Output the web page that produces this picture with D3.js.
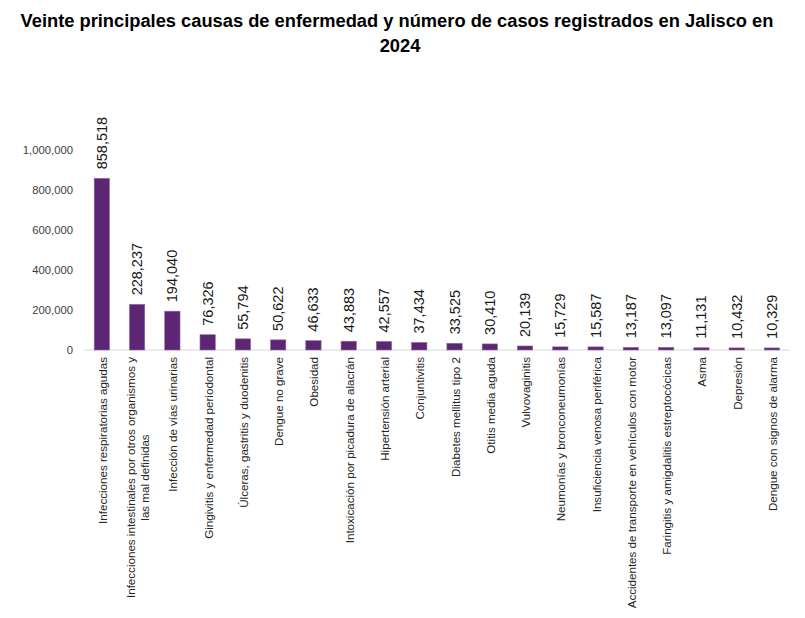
<!DOCTYPE html>
<html lang="es">
<head>
  <meta charset="UTF-8">
  <title>Veinte principales causas de enfermedad</title>
  <script src="https://d3js.org/d3.v7.min.js"></script>
  <style>
    body { margin: 0; background: #fff; font-family: "Liberation Sans", Arial, sans-serif; }
    svg { display: block; }
    .title { font-size: 18.3px; font-weight: bold; fill: #000; text-anchor: middle; }
    .y-axis text { font-size: 11.3px; fill: #404040; }
    .x-label { font-size: 11.6px; fill: #262626; }
    .value { font-size: 14.5px; fill: #1a1a1a; }
    .bar { fill: #5d2675; stroke: #8c6d9c; stroke-width: 0.6px; }
  </style>
</head>
<body>
  <svg width="805" height="618"></svg>
  <script>
    const titleLines = [
      "Veinte principales causas de enfermedad y número de casos registrados en Jalisco en",
      "2024"
    ];

    // categories (line breaks where the label wraps)
    const causes = [
      ["Infecciones respiratorias agudas"],
      ["Infecciones intestinales por otros organismos y", "las mal definidas"],
      ["Infección de vías urinarias"],
      ["Gingivitis y enfermedad periodontal"],
      ["Úlceras, gastritis y duodenitis"],
      ["Dengue no grave"],
      ["Obesidad"],
      ["Intoxicación por picadura de alacrán"],
      ["Hipertensión arterial"],
      ["Conjuntivitis"],
      ["Diabetes mellitus tipo 2"],
      ["Otitis media aguda"],
      ["Vulvovaginitis"],
      ["Neumonías y bronconeumonías"],
      ["Insuficiencia venosa periférica"],
      ["Accidentes de transporte en vehículos con motor"],
      ["Faringitis y amigdalitis estreptocócicas"],
      ["Asma"],
      ["Depresión"],
      ["Dengue con signos de alarma"]
    ];

    const cases = [858518, 228237, 194040, 76326, 55794, 50622, 46633, 43883, 42557, 37434,
                   33525, 30410, 20139, 15729, 15587, 13187, 13097, 11131, 10432, 10329];

    const yTicks = [0, 200000, 400000, 600000, 800000, 1000000];

    const svg = d3.select("svg");
    const fmt = d3.format(",");
    const baseY = 350;

    const x = d3.scaleBand()
      .domain(d3.range(cases.length))
      .range([84.2, 789.6])
      .paddingInner(0.566)
      .paddingOuter(0.283);

    const y = d3.scaleLinear()
      .domain([0, 1200000])
      .range([baseY, 110]);

    // title
    svg.append("text")
      .attr("class", "title")
      .selectAll("tspan")
      .data(titleLines)
      .enter()
      .append("tspan")
      .attr("x", (d, i) => i === 0 ? 397 : 400)
      .attr("y", (d, i) => 27 + i * 25)
      .text(d => d);

    // y axis, labels only
    const yAxis = svg.append("g")
      .attr("class", "y-axis")
      .attr("transform", "translate(75,0)")
      .call(d3.axisLeft(y).tickValues(yTicks).tickFormat(fmt).tickSize(0).tickPadding(2));
    yAxis.select(".domain").remove();
    yAxis.selectAll("text").attr("font-family", null).attr("dy", "0.35em");

    // baseline
    svg.append("line")
      .attr("x1", x.range()[0])
      .attr("x2", x.range()[1])
      .attr("y1", baseY)
      .attr("y2", baseY)
      .attr("stroke", "#d9d9d9")
      .attr("stroke-width", 1);

    // bars
    svg.selectAll(".bar")
      .data(cases)
      .enter()
      .append("rect")
      .attr("class", "bar")
      .attr("x", (d, i) => x(i))
      .attr("width", x.bandwidth())
      .attr("y", d => y(d))
      .attr("height", d => baseY - y(d));

    // value labels
    svg.selectAll(".value")
      .data(cases)
      .enter()
      .append("text")
      .attr("class", "value")
      .attr("transform", (d, i) =>
        `translate(${x(i) + x.bandwidth() / 2 + 5},${y(d) - 9}) rotate(-90)`)
      .text(d => fmt(d));

    // category labels
    const lineGap = 13.5;
    const labels = svg.selectAll(".x-label")
      .data(causes)
      .enter()
      .append("text")
      .attr("class", "x-label")
      .attr("transform", (d, i) =>
        `translate(${x(i) + x.bandwidth() / 2 + 4},${baseY + 7}) rotate(-90)`);

    labels.selectAll("tspan")
      .data(d => d.map((t, k) => ({ t, k, n: d.length })))
      .enter()
      .append("tspan")
      .attr("x", 0)
      .attr("y", d => (d.k - (d.n - 1) / 2) * lineGap + 1)
      .attr("text-anchor", "middle")
      .text(d => d.t);

    // lines centred on each other, block hanging from the axis
    labels.each(function() {
      const spans = d3.select(this).selectAll("tspan");
      let widest = 0;
      spans.each(function() { widest = Math.max(widest, this.getComputedTextLength()); });
      spans.attr("x", -widest / 2);
    });
  </script>
</body>
</html>
